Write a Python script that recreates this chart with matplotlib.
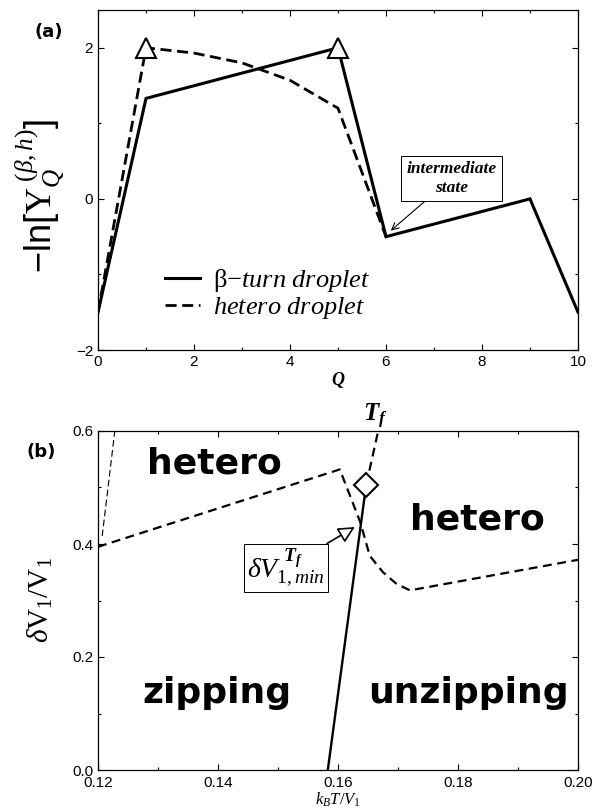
import matplotlib
matplotlib.use("Agg")
import matplotlib.pyplot as plt
from matplotlib.ticker import MultipleLocator, FormatStrFormatter

plt.rcParams['mathtext.fontset'] = 'custom'
plt.rcParams['mathtext.rm'] = 'Liberation Serif'
plt.rcParams['mathtext.it'] = 'Liberation Serif:italic'
plt.rcParams['mathtext.bf'] = 'Liberation Serif:bold'
plt.rcParams['mathtext.bfit'] = 'Liberation Serif:bold:italic'
plt.rcParams['mathtext.sf'] = 'Liberation Sans'
plt.rcParams['font.family'] = ['Liberation Sans', 'DejaVu Sans']

# ---------------- data: panel (a) ----------------
q_beta = [0, 1, 5, 6, 9, 10]
y_beta = [-1.5, 1.33, 2.0, -0.5, 0.0, -1.5]
q_het = [0, 1, 2, 3, 4, 5, 6]
y_het = [-1.5, 2.0, 1.93, 1.8, 1.57, 1.2, -0.5]
q_tri = [1, 5]
y_tri = [2.0, 2.0]

# ---------------- data: panel (b) ----------------
t_thin = [0.1207, 0.1228]
d_thin = [0.414, 0.60]
t_het = [0.12, 0.1603, 0.1637, 0.1653, 0.1675, 0.1698, 0.172, 0.20]
d_het = [0.395, 0.532, 0.439, 0.379, 0.350, 0.329, 0.318, 0.372]
t_tf = [0.1647, 0.1667]
d_tf = [0.505, 0.60]
t_solid = [0.1583, 0.1647]
d_solid = [0.0, 0.505]
t_dia = [0.1647]
d_dia = [0.505]

W, H = 594, 811
fig = plt.figure(figsize=(W / 100, H / 100), dpi=100)

def px_axes(l, t, r, b):
    return fig.add_axes([l / W, 1 - b / H, (r - l) / W, (b - t) / H])

def fx(px):
    return px / W

def fy(py):
    return 1 - py / H

def style(ax):
    ax.tick_params(which='both', direction='in', top=True, right=True,
                   labelsize=11, width=0.8)
    ax.tick_params(which='major', length=4)
    ax.tick_params(which='minor', length=2.5)
    for s in ax.spines.values():
        s.set_linewidth(0.9)

# ---------------- panel (a) ----------------
ax1 = px_axes(98, 10, 578, 350)
style(ax1)
ax1.plot(q_beta, y_beta, color='black', lw=2.2, solid_joinstyle='miter',
         label='β−$\\mathit{turn\\ droplet}$')
ax1.plot(q_het, y_het, color='black', lw=2.0, ls=(0, (4, 2)),
         label='$\\mathit{hetero\\ droplet}$')
ax1.plot(q_tri, y_tri, ls='none', marker='^', ms=15, mfc='white',
         mec='black', mew=1.5, zorder=5)
ax1.set_xlim(0, 10)
ax1.set_ylim(-2, 2.5)
ax1.xaxis.set_major_locator(MultipleLocator(2))
ax1.xaxis.set_minor_locator(MultipleLocator(1))
ax1.yaxis.set_major_locator(MultipleLocator(2))
ax1.yaxis.set_minor_locator(MultipleLocator(1))
ax1.set_xlabel('Q', fontfamily='Liberation Serif', fontweight='bold',
               fontstyle='italic', fontsize=13, labelpad=2)
fig.text(fx(40), fy(196), r'$\mathsf{-ln[}\mathrm{Y}_{Q}^{\ (\beta,h)}\mathsf{]}$',
         fontsize=26, rotation=90, ha='center', va='center')
ax1.legend(loc='center left', bbox_to_anchor=(0.14, 0.165), frameon=False,
           prop={'family': 'Liberation Serif', 'size': 19},
           handlelength=1.3, handletextpad=0.5, labelspacing=0.05,
           borderpad=0, borderaxespad=0)
ax1.annotate('intermediate\nstate', xy=(6.1, -0.42), xytext=(7.36, 0.27),
             ha='center', va='center', fontsize=12.5, fontweight='bold',
             fontstyle='italic', fontfamily='Liberation Serif',
             bbox=dict(boxstyle='square,pad=0.3', fc='white', ec='black', lw=0.7),
             arrowprops=dict(arrowstyle='->', lw=0.8, color='black',
                             shrinkA=0, shrinkB=0))
fig.text(fx(35), fy(32), '(a)', fontsize=13, fontweight='bold',
         fontfamily='DejaVu Sans', ha='left', va='center')

# ---------------- panel (b) ----------------
ax2 = px_axes(98, 431, 578, 770)
style(ax2)
ax2.tick_params(axis='x', which='major', pad=4.5)
ax2.plot(t_thin, d_thin, color='black', lw=0.8, ls=(0, (6, 3)))
ax2.plot(t_het, d_het, color='black', lw=1.6, ls=(0, (4, 2.5)))
ax2.plot(t_tf, d_tf, color='black', lw=1.6, ls=(0, (4, 2.5)))
ax2.plot(t_solid, d_solid, color='black', lw=1.7)
ax2.plot(t_dia, d_dia, ls='none', marker='D', ms=12, mfc='white',
         mec='black', mew=1.5, zorder=5)
ax2.set_xlim(0.12, 0.20)
ax2.set_ylim(0.0, 0.6)
ax2.xaxis.set_major_locator(MultipleLocator(0.02))
ax2.xaxis.set_minor_locator(MultipleLocator(0.01))
ax2.yaxis.set_major_locator(MultipleLocator(0.2))
ax2.yaxis.set_minor_locator(MultipleLocator(0.1))
ax2.xaxis.set_major_formatter(FormatStrFormatter('%.2f'))
ax2.yaxis.set_major_formatter(FormatStrFormatter('%.1f'))
ax2.set_xlabel(r'$k_BT/V_1$', fontsize=12, labelpad=0)
fig.text(fx(40), fy(600), r'$\delta \mathrm{V}_1/\mathrm{V}_1$', fontsize=21,
         rotation=90, ha='center', va='center')

big = dict(fontsize=26, fontweight='bold', fontfamily='DejaVu Sans',
           ha='center', va='center')
ax2.text(0.1394, 0.543, 'hetero', **big)
ax2.text(0.1833, 0.4425, 'hetero', **big)
ax2.text(0.1398, 0.136, 'zipping', **big)
ax2.text(0.1817, 0.136, 'unzipping', **big)
ax2.text(0.1662, 0.625, r'$\mathbfit{T_f}$', fontsize=18, ha='center', va='center',
         clip_on=False)
ax2.annotate(r'$\delta V_{1,min}^{\ \mathbfit{T_f}}$', xy=(0.1628, 0.430),
             xytext=(0.1513, 0.3575), ha='center', va='center', fontsize=20,
             bbox=dict(boxstyle='square,pad=0.12', fc='white', ec='black', lw=0.7),
             arrowprops=dict(arrowstyle='-|>,head_length=0.5,head_width=0.25',
                             fc='white', ec='black', lw=1.2,
                             shrinkA=0, shrinkB=0))
fig.text(fx(27), fy(452), '(b)', fontsize=13, fontweight='bold',
         fontfamily='DejaVu Sans', ha='left', va='center')

fig.savefig('out.png', dpi=100)
